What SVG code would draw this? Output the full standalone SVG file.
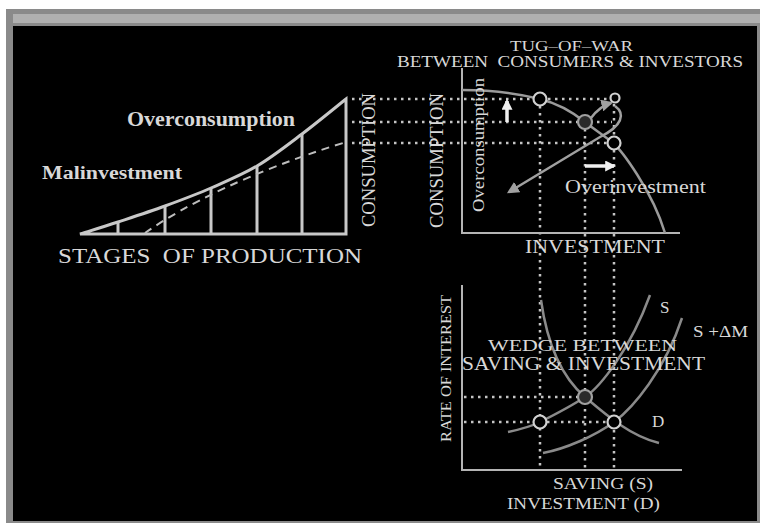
<svg xmlns="http://www.w3.org/2000/svg" width="760" height="523" viewBox="0 0 760 523">
<defs>
<style>
text{font-family:"Liberation Serif","DejaVu Serif",serif;fill:#d8d8d8}
.b{font-weight:bold}
.ln{fill:none;stroke:#c8c8c8;stroke-width:3}
.ax{fill:none;stroke:#b4b4b4;stroke-width:2}
.cv{fill:none;stroke:#9a9a9a;stroke-width:2.5}
.cv2{fill:none;stroke:#8a8a8a;stroke-width:2.5}
.dot{fill:none;stroke:#c4c4c4;stroke-width:2.5;stroke-dasharray:2.5 4.5}
.oc{fill:#000;stroke:#d0d0d0;stroke-width:2.2}
.fc{fill:#2a2a2a;stroke:#a0a0a0;stroke-width:2.2}
</style>
<marker id="wh" viewBox="0 0 10 10" refX="8" refY="5" markerWidth="11" markerHeight="11" markerUnits="userSpaceOnUse" orient="auto"><path d="M0,0L10,5L0,10z" fill="#f0f0f0"/></marker>
<marker id="gr" viewBox="0 0 10 10" refX="8" refY="5" markerWidth="12" markerHeight="12" markerUnits="userSpaceOnUse" orient="auto"><path d="M0,0L10,5L0,10z" fill="#a0a0a0"/></marker>
</defs>
<g id="frame">
<rect x="0" y="0" width="760" height="523" fill="#fff"/>
<rect x="6" y="9" width="754" height="514" fill="#8a8a8a"/>
<rect x="13" y="14" width="747" height="9" fill="#b0b0b0"/>
<rect x="13" y="26" width="744" height="495" fill="#000"/>
</g>
<g id="stages">
<path d="M80,234 C86.3,232 103.8,226.7 118,222 C132.2,217.3 149.5,211.7 165,206 C180.5,200.3 195.7,194.7 211,188 C226.3,181.3 241.8,175 257,166 C272.2,157 287.2,145.2 302,134 C316.8,122.8 338.7,104.8 346,99 L346,234 Z" fill="#1e1e1e" class="ln"/>
<path class="ln" d="M118,222V234M165,206V234M211,188V234M257,166V234M302,134V234"/>
<path d="M145,233 C185,205 250,172 343,143" fill="none" stroke="#bdbdbd" stroke-width="2" stroke-dasharray="8 6"/>
</g>
<g id="connectors">
<path class="dot" d="M352,99H611M352,122H612M352,143H607"/>
<path class="dot" d="M540,106V468M585,129V470M614,104V136M614,150V468"/>
<path class="dot" d="M464,397H578M464,422H533M547,422H607"/>
</g>
<g id="ppf">
<path class="ax" d="M462,68V233H680"/>
<path class="cv" d="M462,90 C495,90 520,94 540,99 S575,114 585,122 S605,136 613,143 S652,190 665,233"/>
<circle class="oc" cx="540" cy="99" r="6.5"/>
<circle class="oc" cx="615" cy="98" r="4.5"/>
<circle class="fc" cx="585" cy="122" r="7"/>
<circle class="oc" cx="614" cy="143" r="6.5"/>
<path d="M591,118 Q600,106 611,103" fill="none" stroke="#a0a0a0" stroke-width="2.5" marker-end="url(#gr)"/>
<path d="M615,106 C626,114 622,126 600,137 L509,192" fill="none" stroke="#a0a0a0" stroke-width="2.5" marker-end="url(#gr)"/>
<path d="M507,122V101" stroke="#f0f0f0" stroke-width="3.5" marker-end="url(#wh)"/>
<path d="M585,166H614" stroke="#f0f0f0" stroke-width="3.5" marker-end="url(#wh)"/>
</g>
<g id="loanable-funds">
<path class="ax" d="M462,285V470H682"/>
<path class="cv2" d="M541,300 C548,350 565,380 585,397 S630,436 659,443"/>
<path class="cv2" d="M508,432 C522,429 532,426 540,422 S570,407 585,397 S630,350 650,295"/>
<path class="cv2" d="M543,453 C565,449 595,436 614,422 S665,370 682,318"/>
<circle class="oc" cx="540" cy="422" r="6.5"/>
<circle class="oc" cx="614" cy="422" r="6.5"/>
<circle class="fc" cx="585" cy="397" r="7"/>
</g>
<g id="labels">
<text class="b" x="127" y="126" font-size="20" textLength="168" lengthAdjust="spacingAndGlyphs">Overconsumption</text>
<text class="b" x="42" y="179" font-size="18" textLength="140" lengthAdjust="spacingAndGlyphs">Malinvestment</text>
<text x="58" y="263" font-size="22" textLength="304" lengthAdjust="spacingAndGlyphs" xml:space="preserve">STAGES  OF PRODUCTION</text>
<text transform="translate(375,227) rotate(-90)" font-size="18" textLength="134" lengthAdjust="spacingAndGlyphs">CONSUMPTION</text>
<text transform="translate(443,228) rotate(-90)" font-size="18" textLength="135" lengthAdjust="spacingAndGlyphs">CONSUMPTION</text>
<text x="510" y="51" font-size="15" textLength="123" lengthAdjust="spacingAndGlyphs">TUG–OF–WAR</text>
<text x="397" y="67" font-size="16" textLength="346" lengthAdjust="spacingAndGlyphs" xml:space="preserve">BETWEEN  CONSUMERS &amp; INVESTORS</text>
<text transform="translate(484,212) rotate(-90)" font-size="17" textLength="134" lengthAdjust="spacingAndGlyphs">Overconsumption</text>
<text x="565" y="193" font-size="18" textLength="141" lengthAdjust="spacingAndGlyphs">Overinvestment</text>
<text x="525" y="253" font-size="19" textLength="140" lengthAdjust="spacingAndGlyphs">INVESTMENT</text>
<text x="488" y="351" font-size="17" textLength="189" lengthAdjust="spacingAndGlyphs">WEDGE BETWEEN</text>
<text x="462" y="370" font-size="18" textLength="243" lengthAdjust="spacingAndGlyphs">SAVING &amp; INVESTMENT</text>
<text transform="translate(451,442) rotate(-90)" font-size="15" textLength="147" lengthAdjust="spacingAndGlyphs">RATE OF INTEREST</text>
<text x="660" y="313" font-size="17">S</text>
<text x="693" y="337" font-size="16" textLength="55" lengthAdjust="spacingAndGlyphs">S +ΔM</text>
<text x="652" y="427" font-size="17">D</text>
<text x="553" y="489" font-size="17" textLength="100" lengthAdjust="spacingAndGlyphs">SAVING (S)</text>
<text x="507" y="509" font-size="17" textLength="153" lengthAdjust="spacingAndGlyphs">INVESTMENT (D)</text>
</g>
</svg>
